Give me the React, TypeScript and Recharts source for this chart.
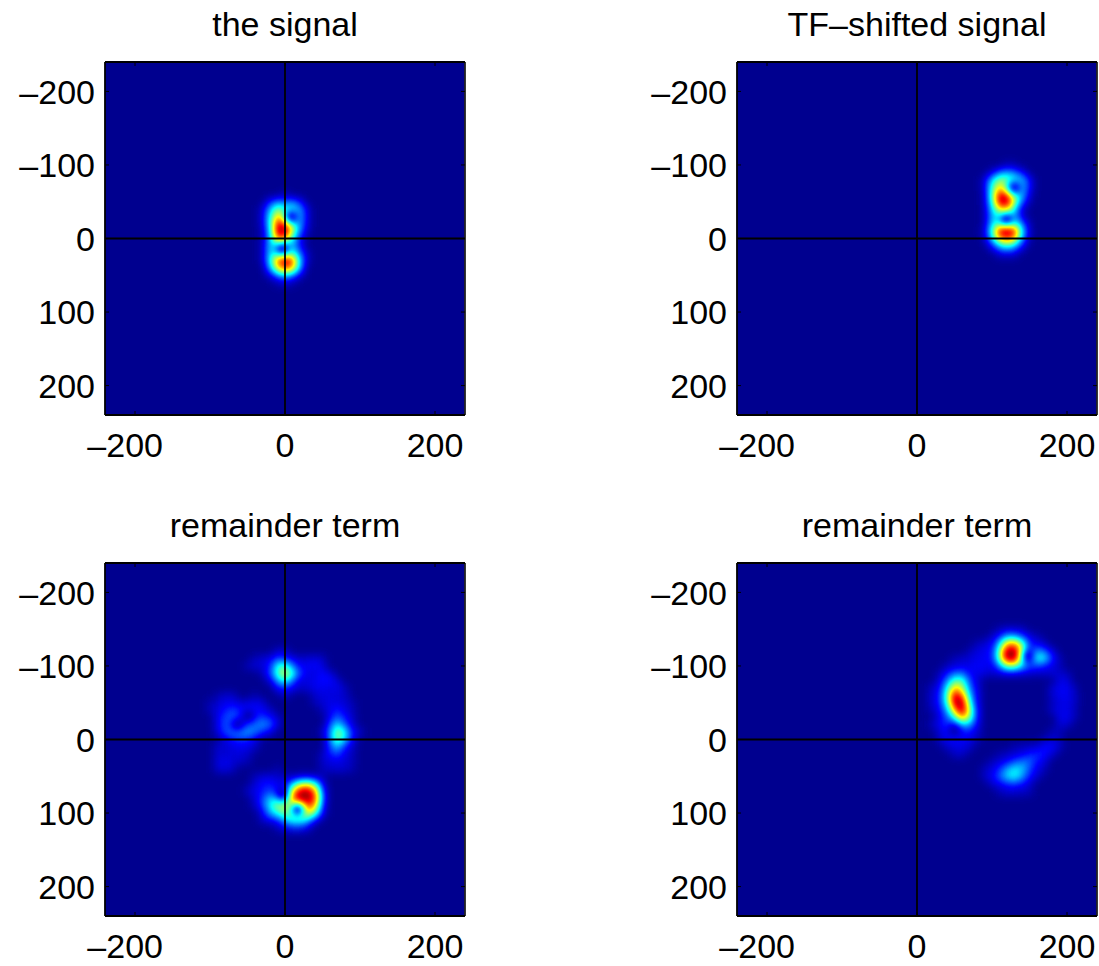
import React from 'react';
import { ScatterChart, Scatter, XAxis, YAxis, ReferenceLine, CartesianGrid } from 'recharts';

const xTicks = [-200, 0, 200];
const yTicks = [-200, -100, 0, 100, 200];
const titles = ['the signal', 'TF\u2013shifted signal', 'remainder term', 'remainder term'];
const verticalAxisLine = [{ x: 0, y: -240 }, { x: 0, y: 240 }];
const horizontalAxisLine = [{ x: -240, y: 0 }, { x: 240, y: 0 }];

// colour level 0..12 on the jet scale, rows top to bottom, columns left to right, 10 units apart
const signalOrigin = [-40, -60];
const signalRows = [
  [0, 0, 0, 0, 0.3, 0, 0, 0, 0],
  [0, 0, 1, 2, 1.5, 2, 1, 0, 0],
  [0, 0.5, 2.5, 5.5, 4, 4, 2.5, 0.5, 0],
  [0, 0.5, 3.5, 8, 6, 2.5, 3, 0.5, 0],
  [0, 0.5, 3.5, 11, 10, 6, 2.5, 0.5, 0],
  [0, 0.3, 3, 12, 12, 6, 2, 0.3, 0],
  [0, 0.2, 2.5, 9, 8, 3.5, 1, 0, 0],
  [0, 0.3, 3, 4, 2, 3, 1, 0, 0],
  [0, 0.3, 3, 6, 5.5, 4.5, 2, 0.3, 0],
  [0, 0.3, 3.5, 9, 12, 10, 3, 0.3, 0],
  [0, 0, 2.5, 7, 9, 8, 2.5, 0, 0],
  [0, 0, 0.5, 2, 3, 2, 0.5, 0, 0],
  [0, 0, 0, 0.2, 0.4, 0.2, 0, 0, 0],
];
const signalNulls = [[8, -29], [-4, 15]];

const shiftedOrigin = [80, -100];
const shiftedRows = [
  [0, 0, 0, 0, 0.3, 0.2, 0, 0, 0],
  [0, 0, 0.5, 2, 2.5, 2, 1, 0, 0],
  [0, 0.5, 3, 5.5, 5, 4, 3, 1, 0],
  [0, 0.5, 4, 7.5, 5, 2, 3, 1, 0],
  [0, 0.3, 4.5, 11, 10, 5, 3, 0.5, 0],
  [0, 0.3, 4, 12, 12, 6, 2, 0.2, 0],
  [0, 0.2, 3, 7, 7.5, 3.5, 0.5, 0, 0],
  [0, 0.2, 2.5, 4, 2.5, 3, 0.5, 0, 0],
  [0, 0.2, 3, 5, 5, 4.5, 2, 0.2, 0],
  [0, 0.5, 4, 11, 12, 10.5, 3.5, 0.3, 0],
  [0, 0.3, 3, 8, 9.5, 8, 2.5, 0.2, 0],
  [0, 0, 1, 3, 4, 3, 1, 0, 0],
  [0, 0, 0, 0.5, 0.5, 0.5, 0, 0, 0],
];
const shiftedNulls = [[129, -69], [119, -26]];

const remainderAOrigin = [-100, -120];
const remainderARows = [
  [0, 0, 0, 0, 0, 0, 0, 0, 0, 0.5, 0.5, 0, 0, 0, 0, 0, 0, 0, 0, 0, 0, 0],
  [0, 0, 0, 0, 0, 0, 0.3, 0.5, 0.7, 1.5, 1, 0.7, 0.4, 0.5, 0.6, 0.4, 0, 0, 0, 0, 0, 0],
  [0, 0, 0, 0, 0, 0.3, 0.5, 0.5, 1, 4, 4.5, 2, 0.8, 0.8, 0.9, 0.6, 0, 0, 0, 0, 0, 0],
  [0, 0, 0, 0, 0, 0, 0, 0.3, 1.5, 4.5, 6.5, 4.5, 1.5, 0.6, 0.6, 1, 0.6, 0, 0, 0, 0, 0],
  [0, 0, 0, 0, 0, 0, 0, 0, 0.6, 2.5, 4, 1.8, 0.5, 0.6, 0.8, 1, 1, 0.5, 0, 0, 0, 0],
  [0, 0, 0, 0, 0, 0, 0, 0, 0, 1, 1.2, 0.8, 0.4, 0.5, 0.7, 0.8, 0.6, 0.8, 0.3, 0, 0, 0],
  [0, 0.2, 0.4, 0.5, 0, 0, 0.2, 0, 0, 0, 0.4, 0, 0, 0, 0.4, 0.6, 0.6, 0.5, 0.4, 0, 0, 0],
  [0.2, 0.4, 0.7, 0.7, 0.5, 0.5, 0.7, 0.6, 0, 0, 0, 0, 0, 0, 0.3, 0.5, 0.7, 0.6, 0.5, 0.2, 0, 0],
  [0.3, 0.6, 1, 1.5, 1, 1.2, 1, 0.8, 0.4, 0, 0, 0, 0, 0, 0, 0.3, 0.7, 1.2, 0.6, 0.3, 0, 0],
  [0, 0.7, 1.5, 2, 1.5, 0.8, 1.2, 1.4, 1, 0.4, 0, 0, 0, 0, 0, 0, 0.8, 2, 1, 0.4, 0, 0],
  [0, 0.8, 1.5, 2.5, 0.6, 1.5, 2, 2.5, 2, 0.6, 0, 0, 0, 0, 0, 0, 1.5, 3.5, 1.5, 0.5, 0, 0],
  [0, 0.6, 1.5, 2.3, 2.5, 2.5, 2, 1.2, 0.7, 0, 0, 0, 0, 0, 0, 0.4, 2, 6, 3.5, 1, 0.4, 0],
  [0, 0, 0.5, 1, 1.2, 1.2, 0.6, 0, 0, 0, 0, 0, 0, 0, 0, 0, 2, 5.5, 3, 0.8, 0, 0],
  [0, 0.5, 0.5, 0.6, 0.8, 0.7, 0.4, 0, 0, 0, 0, 0, 0, 0, 0, 0, 1.5, 3, 1, 0.4, 0, 0],
  [0, 0.5, 0.4, 0.6, 0.5, 0.4, 0, 0, 0, 0, 0, 0, 0, 0, 0, 0.4, 1, 1.5, 0.6, 0.3, 0, 0],
  [0, 0.6, 0.8, 0.5, 0.4, 0.3, 0, 0, 0, 0, 0, 0, 0, 0, 0, 0.4, 0.6, 0.7, 0.5, 0.3, 0, 0],
  [0, 0.5, 0.6, 0.4, 0, 0, 0, 0, 0, 0.2, 0, 0, 0, 0, 0, 0.3, 0.4, 0.5, 0.4, 0.2, 0, 0],
  [0, 0, 0, 0, 0, 0, 0.3, 0.5, 0.6, 0.4, 0.3, 0.3, 0.4, 0.5, 0.3, 0.2, 0, 0, 0, 0, 0, 0],
  [0, 0, 0, 0, 0, 0, 0.5, 1, 1, 0.7, 0.7, 2.5, 5, 6, 4, 0.7, 0, 0, 0, 0, 0, 0],
  [0, 0, 0, 0, 0, 0.4, 0.7, 1, 1.5, 1, 0.8, 7, 11, 12, 8.5, 1.5, 0, 0, 0, 0, 0, 0],
  [0, 0, 0, 0, 0, 0, 0.5, 1.5, 3, 3.5, 3, 9, 12, 12, 10, 2, 0, 0, 0, 0, 0, 0],
  [0, 0, 0, 0, 0, 0, 0.4, 1.5, 3.5, 6, 5.5, 7.5, 7, 10, 8, 1.2, 0, 0, 0, 0, 0, 0],
  [0, 0, 0, 0, 0, 0, 0, 0.7, 2.5, 4, 5, 6, 7, 7, 5, 0.8, 0, 0, 0, 0, 0, 0],
  [0, 0, 0, 0, 0, 0, 0, 0.4, 0.7, 1, 2.5, 4, 4, 3, 0.8, 0, 0, 0, 0, 0, 0, 0],
  [0, 0, 0, 0, 0, 0, 0, 0, 0, 0.3, 0.7, 1, 1, 0.6, 0, 0, 0, 0, 0, 0, 0, 0],
];
const remainderANulls = [[17, 95], [-64, -20], [-49, -32], [-3, 75]];

const remainderBOrigin = [10, -150];
const remainderBRows = [
  [0, 0, 0, 0, 0, 0, 0, 0, 0, 0, 0.3, 0.5, 0.5, 0.4, 0, 0, 0, 0, 0, 0, 0, 0],
  [0, 0, 0, 0, 0, 0, 0, 0, 0, 0.4, 1, 2.5, 2.5, 1.5, 0.7, 0.3, 0, 0, 0, 0, 0, 0],
  [0, 0, 0, 0, 0, 0, 0, 0.3, 0.5, 0.8, 3, 8, 9, 5, 1, 0.8, 0.4, 0, 0, 0, 0, 0],
  [0, 0, 0, 0, 0, 0, 0.3, 0.6, 0.8, 1, 5, 12, 12, 8, 1.5, 2.5, 2, 0.7, 0, 0, 0, 0],
  [0, 0, 0, 0, 0.3, 0.4, 0.5, 0.7, 0.8, 1, 5, 12, 12, 7, 1, 4, 4, 1.2, 0.3, 0, 0, 0],
  [0, 0, 0, 0.3, 0.5, 0.6, 0.7, 0.9, 0.8, 0.7, 2, 5, 5, 3, 1.5, 1.5, 1, 0.6, 0.3, 0, 0, 0],
  [0, 0, 0.3, 1, 2, 2, 0.8, 0.7, 0.6, 0.4, 0.5, 0.6, 0.6, 0.5, 0.4, 0.3, 0.4, 0.5, 0.5, 0.3, 0, 0],
  [0, 0, 0.5, 2, 4.5, 4.5, 1.5, 0.5, 0, 0, 0, 0, 0, 0, 0, 0, 0, 0, 0.7, 0.6, 0, 0],
  [0, 0.4, 0.8, 3.5, 8, 6, 2, 0.7, 0, 0, 0, 0, 0, 0, 0, 0, 0, 0.5, 0.8, 0.8, 0.3, 0],
  [0, 0.5, 1, 4.5, 12, 9, 3, 0.8, 0, 0, 0, 0, 0, 0, 0, 0, 0, 0.4, 0.8, 0.8, 0.4, 0],
  [0, 0.5, 1, 4, 12, 12, 4, 0.8, 0, 0, 0, 0, 0, 0, 0, 0, 0, 0.3, 0.6, 0.7, 0.4, 0],
  [0, 0.3, 0.8, 2.5, 8, 12, 6, 1, 0, 0, 0, 0, 0, 0, 0, 0, 0, 0.4, 0.7, 0.7, 0.3, 0],
  [0, 0, 0.7, 1.5, 3.5, 8, 5.5, 1, 0, 0, 0, 0, 0, 0, 0, 0, 0, 0, 0.7, 0.8, 0.3, 0],
  [0, 0.4, 0.8, 1.5, 1.5, 3, 2.5, 0.8, 0, 0, 0, 0, 0, 0, 0, 0, 0, 0, 0.5, 0.5, 0, 0],
  [0, 0, 0.5, 1, 0.5, 1, 1, 0.5, 0, 0, 0, 0, 0, 0, 0, 0, 0, 0.3, 0.3, 0, 0, 0],
  [0, 0, 0.4, 0.8, 1, 0.8, 0.7, 0.3, 0, 0, 0, 0, 0, 0, 0, 0, 0.3, 0.5, 0.3, 0, 0, 0],
  [0, 0, 0, 0.4, 0.6, 0.7, 0.5, 0, 0, 0, 0, 0, 0.2, 0.3, 0.4, 0.5, 1, 0.9, 0.4, 0, 0, 0],
  [0, 0, 0, 0, 0.4, 0.4, 0, 0, 0, 0, 0.2, 0.4, 0.5, 0.7, 1.2, 1.3, 1, 0.5, 0, 0, 0, 0],
  [0, 0, 0, 0, 0, 0, 0, 0, 0, 0.3, 0.5, 0.8, 1.5, 2, 2, 1, 0.6, 0, 0, 0, 0, 0],
  [0, 0, 0, 0, 0, 0, 0, 0, 0.3, 0.6, 1.2, 2.5, 3.5, 3, 1.5, 0.7, 0.3, 0, 0, 0, 0, 0],
  [0, 0, 0, 0, 0, 0, 0, 0, 0.4, 0.8, 1.8, 3.2, 4, 2.5, 1, 0.5, 0, 0, 0, 0, 0, 0],
  [0, 0, 0, 0, 0, 0, 0, 0, 0, 0.5, 0.8, 1.2, 1.5, 1, 0.5, 0, 0, 0, 0, 0, 0, 0],
  [0, 0, 0, 0, 0, 0, 0, 0, 0, 0, 0.3, 0.5, 0.5, 0.4, 0.3, 0, 0, 0, 0, 0, 0, 0],
];
const remainderBNulls = [[147, -114], [50, -14]];

const STEP = 10;
const MAX_LEVEL = 12;
const LEVEL_GAMMA = 0.8;
const PW = 360;
const PH = 353;
const LEFT = 90;
const TOP = 58;
const CELL_W = (STEP * PW) / 480;
const CELL_H = (STEP * PH) / 480;
const FONT = '"Liberation Sans", Arial, sans-serif';
const FONT_SIZE = 34;
const DIGITS_HALF = 28;
const JET_R = '0 0 0 0 0.5 1 1 1 0.5';
const JET_G = '0 0 0.5 1 1 1 0.5 0 0';
const JET_B = '0.5625 1 1 1 0.5 0 0 0 0';

type Cell = { x: number; y: number; v: number; isNull?: boolean };

function cellsOf(origin: number[], rows: number[][], nulls: number[][]): Cell[] {
  const cells: Cell[] = [];
  rows.forEach((row, i) =>
    row.forEach((v, j) => cells.push({ x: origin[0] + j * STEP, y: origin[1] + i * STEP, v })),
  );
  nulls.forEach(([x, y]) => cells.push({ x, y, v: 0, isNull: true }));
  return cells;
}

function CellShape(props: any) {
  const { cx, cy, payload } = props;
  if (payload.isNull) return <circle cx={cx} cy={cy} r={6} fill="#000" />;
  const g = Math.min(255, Math.round(Math.pow(payload.v / MAX_LEVEL, LEVEL_GAMMA) * 255));
  return (
    <rect
      x={cx - CELL_W / 2}
      y={cy - CELL_H / 2}
      width={CELL_W + 1}
      height={CELL_H + 1}
      fill={`rgb(${g},${g},${g})`}
      shapeRendering="crispEdges"
    />
  );
}

const noMark = () => null;
const label = (v: number) => (v < 0 ? `\u2013${-v}` : `${v}`);

function XTick(props: any) {
  const { x, payload } = props;
  const negative = payload.value < 0;
  return (
    <g>
      <line x1={x} x2={x} y1={TOP} y2={TOP + 4} stroke="#000" strokeWidth={1} />
      <line x1={x} x2={x} y1={TOP + PH} y2={TOP + PH - 4} stroke="#000" strokeWidth={1} />
      <text
        x={negative ? x + DIGITS_HALF : x}
        y={TOP + PH + 42}
        textAnchor={negative ? 'end' : 'middle'}
        fontSize={FONT_SIZE}
        fontFamily={FONT}
        fill="#000"
      >
        {label(payload.value)}
      </text>
    </g>
  );
}

function YTick(props: any) {
  const { y, payload } = props;
  return (
    <g>
      <line x1={LEFT} x2={LEFT + 4} y1={y} y2={y} stroke="#000" strokeWidth={1} />
      <line x1={LEFT + PW} x2={LEFT + PW - 4} y1={y} y2={y} stroke="#000" strokeWidth={1} />
      <text x={LEFT - 10} y={y + 12.3} textAnchor="end" fontSize={FONT_SIZE} fontFamily={FONT} fill="#000">
        {label(payload.value)}
      </text>
    </g>
  );
}

function Panel({ left, top, title, data }: { left: number; top: number; title: string; data: Cell[] }) {
  return (
    <div style={{ position: 'absolute', left: left - LEFT, top: top - TOP }}>
      <ScatterChart
        width={LEFT + PW + 2}
        height={TOP + PH + 50}
        margin={{ top: TOP, left: 0, right: 2, bottom: 0 }}
      >
        <CartesianGrid horizontal={false} vertical={false} fill="#00008f" />
        <XAxis
          type="number"
          dataKey="x"
          domain={[-240, 240]}
          ticks={xTicks}
          height={50}
          tick={<XTick />}
          tickLine={false}
          axisLine={{ stroke: '#000', strokeWidth: 1.8 }}
          allowDataOverflow
          interval={0}
        />
        <YAxis
          type="number"
          dataKey="y"
          domain={[-240, 240]}
          ticks={yTicks}
          reversed
          width={LEFT}
          tick={<YTick />}
          tickLine={false}
          axisLine={{ stroke: '#000', strokeWidth: 1.8 }}
          allowDataOverflow
          interval={0}
        />
        <ReferenceLine x={240} stroke="#222" strokeWidth={1.8} />
        <ReferenceLine y={-240} stroke="#000" strokeWidth={1.8} />
        <Scatter data={data} shape={CellShape} className="jet-heat" isAnimationActive={false} />
        <Scatter data={verticalAxisLine} line={{ stroke: '#000', strokeWidth: 1.8 }} shape={noMark} isAnimationActive={false} />
        <Scatter data={horizontalAxisLine} line={{ stroke: '#000', strokeWidth: 1.8 }} shape={noMark} isAnimationActive={false} />
        <text x={LEFT + PW / 2} y={TOP - 26} textAnchor="middle" fontSize={FONT_SIZE} fontFamily={FONT} fill="#000">
          {title}
        </text>
      </ScatterChart>
    </div>
  );
}

const panels = [
  { left: 104.5, top: 61.5, title: titles[0], data: cellsOf(signalOrigin, signalRows, signalNulls) },
  { left: 737, top: 61.5, title: titles[1], data: cellsOf(shiftedOrigin, shiftedRows, shiftedNulls) },
  { left: 104.5, top: 563, title: titles[2], data: cellsOf(remainderAOrigin, remainderARows, remainderANulls) },
  { left: 737, top: 563, title: titles[3], data: cellsOf(remainderBOrigin, remainderBRows, remainderBNulls) },
];

export default function App() {
  return (
    <div style={{ position: 'fixed', left: 0, top: 0, width: 1099, height: 966, background: '#fff' }}>
      <style>{'.jet-heat { filter: url(#jet-map); }'}</style>
      <svg width={0} height={0} style={{ position: 'absolute' }}>
        <defs>
          <filter id="jet-map" x="-10%" y="-10%" width="120%" height="120%" colorInterpolationFilters="sRGB">
            <feGaussianBlur stdDeviation={4} />
            <feComponentTransfer>
              <feFuncR type="table" tableValues={JET_R} />
              <feFuncG type="table" tableValues={JET_G} />
              <feFuncB type="table" tableValues={JET_B} />
            </feComponentTransfer>
          </filter>
        </defs>
      </svg>
      {panels.map((p, i) => (
        <Panel key={i} {...p} />
      ))}
    </div>
  );
}
